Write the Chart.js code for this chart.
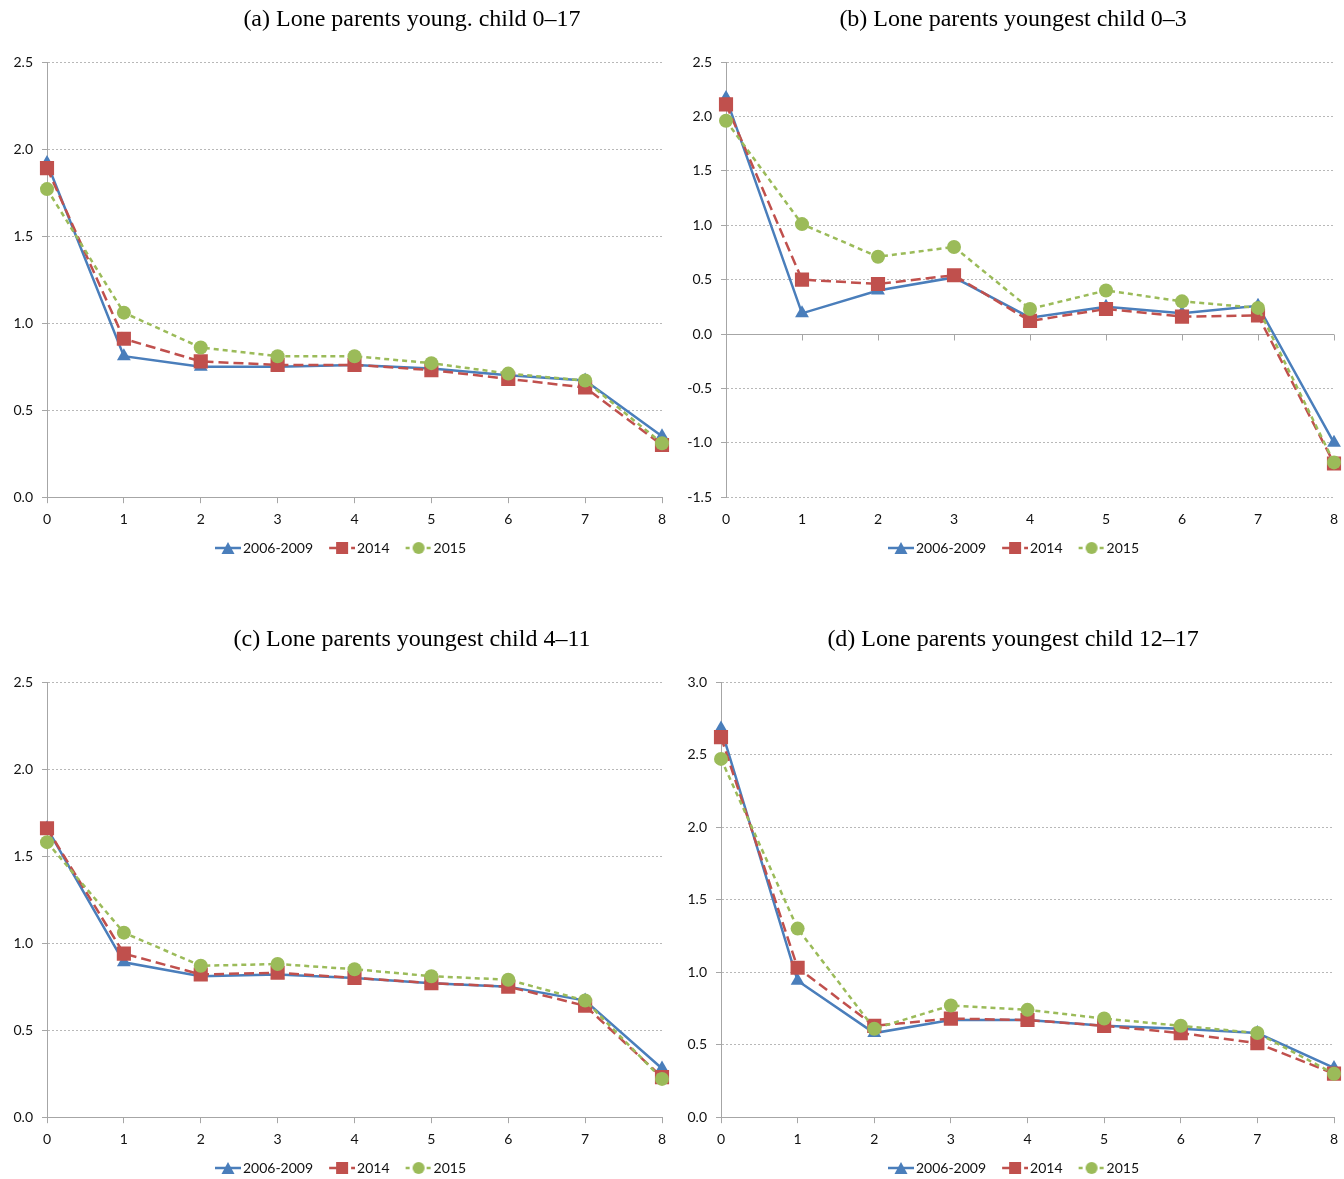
<!DOCTYPE html>
<html lang="en">
<head>
<meta charset="UTF-8">
<script src="https://cdn.jsdelivr.net/npm/chart.js"></script>
<title>Lone parents</title>
<style>
    body { margin: 0; background: #fff; width: 1344px; height: 1179px; overflow: hidden; position: relative; }
    .painel { position: absolute; width: 672px; height: 565px; }
    .titulo { position: absolute; width: 500px; text-align: center; font-family: 'Liberation Serif'; font-size: 24px; line-height: 24px; color: #000; white-space: nowrap; }
</style>
</head>
<body>
    <div class="painel" style="left:0;top:0"><canvas id="chartA" width="672" height="565"></canvas></div>
    <div class="painel" style="left:672px;top:0"><canvas id="chartB" width="672" height="565"></canvas></div>
    <div class="painel" style="left:0;top:620px"><canvas id="chartC" width="672" height="565"></canvas></div>
    <div class="painel" style="left:672px;top:620px"><canvas id="chartD" width="672" height="565"></canvas></div>
    <div class="titulo" id="tituloA" style="left:162px;top:6px"></div>
    <div class="titulo" id="tituloB" style="left:763px;top:6px"></div>
    <div class="titulo" id="tituloC" style="left:162px;top:626px"></div>
    <div class="titulo" id="tituloD" style="left:763px;top:626px"></div>

<script>
    // x categories, legend names and panel titles
    const xLabels = ['0', '1', '2', '3', '4', '5', '6', '7', '8'];
    const seriesNames = ['2006-2009', '2014', '2015'];
    const titulos = [
        '(a) Lone parents young. child 0\u201317',
        '(b) Lone parents youngest child 0\u20133',
        '(c) Lone parents youngest child 4\u201311',
        '(d) Lone parents youngest child 12\u201317'
    ];

    // (a) youngest child 0-17
    const a0609 = [1.92, 0.81, 0.75, 0.75, 0.76, 0.74, 0.70, 0.67, 0.35];
    const a2014 = [1.89, 0.91, 0.78, 0.76, 0.76, 0.73, 0.68, 0.63, 0.30];
    const a2015 = [1.77, 1.06, 0.86, 0.81, 0.81, 0.77, 0.71, 0.67, 0.31];

    // (b) youngest child 0-3
    const b0609 = [2.17, 0.19, 0.40, 0.52, 0.15, 0.25, 0.19, 0.26, -1.00];
    const b2014 = [2.11, 0.50, 0.46, 0.54, 0.12, 0.23, 0.16, 0.17, -1.19];
    const b2015 = [1.96, 1.01, 0.71, 0.80, 0.23, 0.40, 0.30, 0.24, -1.18];

    // (c) youngest child 4-11
    const c0609 = [1.66, 0.89, 0.81, 0.82, 0.80, 0.77, 0.75, 0.67, 0.28];
    const c2014 = [1.66, 0.94, 0.82, 0.83, 0.80, 0.77, 0.75, 0.64, 0.23];
    const c2015 = [1.58, 1.06, 0.87, 0.88, 0.85, 0.81, 0.79, 0.67, 0.22];

    // (d) youngest child 12-17
    const d0609 = [2.68, 0.94, 0.58, 0.67, 0.67, 0.63, 0.61, 0.58, 0.34];
    const d2014 = [2.62, 1.03, 0.63, 0.68, 0.67, 0.63, 0.58, 0.51, 0.30];
    const d2015 = [2.47, 1.30, 0.61, 0.77, 0.74, 0.68, 0.63, 0.58, 0.30];

    const azul = '#4A7EBB';
    const vermelho = '#C0504D';
    const verde = '#9BBB59';
    const cinza = '#a6a6a6';
    const fonteEixo = { family: 'Lato', size: 14 };

    document.getElementById('tituloA').textContent = titulos[0];
    document.getElementById('tituloB').textContent = titulos[1];
    document.getElementById('tituloC').textContent = titulos[2];
    document.getElementById('tituloD').textContent = titulos[3];

    // small canvas for the legend: line segment with the marker in the middle
    // (left part kept transparent so the items sit further apart)
    function iconeLegenda(cor, dash, estilo) {
        const c = document.createElement('canvas');
        c.width = 42; c.height = 16;
        const ctx = c.getContext('2d');
        ctx.strokeStyle = cor;
        ctx.lineWidth = 2.5;
        ctx.setLineDash(dash);
        ctx.beginPath(); ctx.moveTo(16, 8); ctx.lineTo(42, 8); ctx.stroke();
        ctx.setLineDash([]);
        ctx.fillStyle = cor;
        ctx.beginPath();
        if (estilo == 'triangle') {
            ctx.moveTo(29, 2); ctx.lineTo(35.5, 14); ctx.lineTo(22.5, 14);
        } else if (estilo == 'rect') {
            ctx.rect(23, 2, 12, 12);
        } else {
            ctx.arc(29, 8, 6, 0, Math.PI * 2);
        }
        ctx.closePath();
        ctx.fill();
        return c;
    }

    const icones = [
        iconeLegenda(azul, [], 'triangle'),
        iconeLegenda(vermelho, [8, 3], 'rect'),
        iconeLegenda(verde, [4, 3], 'circle')
    ];

    // solid zero line with tick marks, for the panel that goes below zero
    const linhaZero = {
        id: 'linhaZero',
        beforeDatasetsDraw(chart) {
            const y = chart.scales.y;
            if (y.min >= 0) return;
            const x = chart.scales.x;
            const ctx = chart.ctx;
            const py = Math.round(y.getPixelForValue(0)) + 0.5;
            ctx.save();
            ctx.strokeStyle = cinza;
            ctx.lineWidth = 1;
            ctx.beginPath();
            ctx.moveTo(chart.chartArea.left, py);
            ctx.lineTo(chart.chartArea.right, py);
            for (let i = 0; i < xLabels.length; i++) {
                const px = Math.round(x.getPixelForValue(i)) + 0.5;
                ctx.moveTo(px, py);
                ctx.lineTo(px, py + 6);
            }
            ctx.stroke();
            ctx.restore();
        }
    };

    function desenhar(id, s1, s2, s3, yMin, yMax, larguraY, direita) {
        const abaixoZero = yMin < 0;
        return new Chart(document.getElementById(id), {
            type: 'line',
            data: {
                labels: xLabels,
                datasets: [{
                    label: seriesNames[0],
                    data: s1,
                    borderColor: azul,
                    backgroundColor: azul,
                    borderWidth: 2.5,
                    pointStyle: 'triangle',
                    pointRadius: 8,
                    pointBorderWidth: 0,
                    order: 3
                }, {
                    label: seriesNames[1],
                    data: s2,
                    borderColor: vermelho,
                    backgroundColor: vermelho,
                    borderWidth: 2.5,
                    borderDash: [10, 5],
                    pointStyle: 'rect',
                    pointRadius: 10,
                    pointBorderWidth: 0,
                    order: 2
                }, {
                    label: seriesNames[2],
                    data: s3,
                    borderColor: verde,
                    backgroundColor: verde,
                    borderWidth: 2.5,
                    borderDash: [5, 4],
                    pointStyle: 'circle',
                    pointRadius: 7,
                    pointBorderWidth: 0,
                    order: 1
                }]
            },
            options: {
                responsive: false,
                animation: false,
                layout: { padding: { left: 8, right: direita, top: 62, bottom: 0 } },
                plugins: {
                    title: { display: false },
                    legend: {
                        position: 'bottom',
                        labels: {
                            usePointStyle: true,
                            pointStyleWidth: 32,
                            boxHeight: 14,
                            color: '#111',
                            font: fonteEixo,
                            padding: 5,
                            generateLabels(chart) {
                                return chart.data.datasets.map((ds, i) => ({
                                    text: ds.label,
                                    pointStyle: icones[i],
                                    fillStyle: ds.borderColor,
                                    strokeStyle: ds.borderColor,
                                    lineWidth: 0,
                                    fontColor: '#111',
                                    datasetIndex: i
                                }));
                            }
                        }
                    },
                    tooltip: { enabled: false }
                },
                scales: {
                    x: {
                        offset: false,
                        afterFit(scale) { scale.paddingRight = 0; scale.paddingLeft = 0; },
                        grid: {
                            drawOnChartArea: false,
                            tickLength: 6,
                            color: cinza,
                            tickColor: abaixoZero ? 'transparent' : cinza
                        },
                        border: { display: !abaixoZero, color: cinza },
                        ticks: { color: '#111', font: fonteEixo, padding: 8, maxRotation: 0 }
                    },
                    y: {
                        min: yMin,
                        max: yMax,
                        afterFit(scale) { scale.width = larguraY; },
                        grid: {
                            color: '#b8b8b8',
                            tickLength: 5,
                            tickColor: cinza,
                            tickBorderDash: []
                        },
                        border: { color: cinza, dash: [2, 2] },
                        ticks: {
                            stepSize: 0.5,
                            color: '#111',
                            font: fonteEixo,
                            padding: 9,
                            callback: v => v.toFixed(1)
                        }
                    }
                }
            },
            plugins: [linhaZero]
        });
    }

    desenhar('chartA', a0609, a2014, a2015, 0, 2.5, 39, 10);
    desenhar('chartB', b0609, b2014, b2015, -1.5, 2.5, 46, 8);
    desenhar('chartC', c0609, c2014, c2015, 0, 2.5, 39, 10);
    desenhar('chartD', d0609, d2014, d2015, 0, 3.0, 41, 8);
</script>
</body>
</html>
